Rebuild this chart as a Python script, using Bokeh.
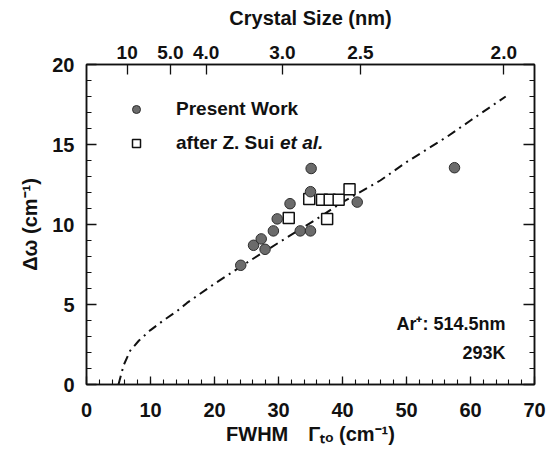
from bokeh.plotting import figure
from bokeh.models import (Range1d, LinearAxis, SingleIntervalTicker, FixedTicker,
                          Label, Legend, LegendItem)
from bokeh.embed import file_html
from bokeh.resources import INLINE

# ---- data ----
present_fwhm = [24.1, 26.1, 27.3, 27.9, 29.2, 29.8, 31.8, 33.4, 35.0, 35.0, 35.1, 42.3, 57.5]
present_shift = [7.45, 8.7, 9.1, 8.45, 9.6, 10.35, 11.3, 9.6, 9.6, 12.05, 13.5, 11.4, 13.55]

sui_fwhm = [31.6, 34.8, 36.8, 38.0, 39.4, 41.1, 37.6]
sui_shift = [10.4, 11.6, 11.55, 11.55, 11.55, 12.2, 10.35]

model_fwhm = [5.0, 5.8, 6.8, 8.2, 10.0, 12.0, 14.2, 15.7, 20.0, 25.6, 30.0, 35.6, 40.0, 45.9, 50.0, 56.4, 60.0, 65.5]
model_shift = [0.0, 1.2, 2.1, 2.75, 3.4, 4.0, 4.6, 5.1, 6.3, 7.75, 8.86, 10.25, 11.4, 12.75, 13.9, 15.5, 16.5, 18.0]

size_tick_fwhm = [6.35, 13.1, 18.7, 30.6, 42.8, 65.2]
size_tick_labels = ["10", "5.0", "4.0", "3.0", "2.5", "2.0"]

FONT = "Liberation Sans"
INK = "#111111"

W, H = 550, 452
p = figure(width=W, height=H, x_range=Range1d(0, 70), y_range=Range1d(0, 20),
           output_backend="svg", toolbar_location=None,
           x_axis_location=None, y_axis_location=None,
           min_border_left=86, min_border_right=16, min_border_top=64, min_border_bottom=68)
p.xgrid.visible = False
p.ygrid.visible = False
p.outline_line_color = INK
p.outline_line_width = 1.5
p.background_fill_color = "white"
p.border_fill_color = "white"


def style_axis(ax, size, standoff, tin, tout, mtin):
    ax.axis_line_color = INK
    ax.axis_line_width = 1.5
    ax.major_tick_line_color = INK
    ax.minor_tick_line_color = INK
    ax.major_tick_line_width = 1.3
    ax.minor_tick_line_width = 1.1
    ax.major_tick_in = tin
    ax.major_tick_out = tout
    ax.minor_tick_in = mtin
    ax.minor_tick_out = 0
    ax.major_label_text_font = FONT
    ax.major_label_text_font_style = "bold"
    ax.major_label_text_font_size = size
    ax.major_label_text_color = INK
    ax.major_label_standoff = standoff
    ax.axis_label_text_font = FONT
    ax.axis_label_text_font_style = "bold"
    ax.axis_label_text_font_size = "20px"
    ax.axis_label_text_color = INK


xb = LinearAxis(ticker=SingleIntervalTicker(interval=10, num_minor_ticks=5),
                axis_label="FWHM\u2003\u0393\u209c\u2092 (cm\u207b\u00b9)")
style_axis(xb, "20px", 18, 8, 0, 5)
xb.axis_label_standoff = 3
p.add_layout(xb, "below")

xt = LinearAxis(ticker=FixedTicker(ticks=size_tick_fwhm, minor_ticks=[]),
                major_label_overrides={t: lab for t, lab in zip(size_tick_fwhm, size_tick_labels)},
                axis_label="Crystal Size (nm)")
style_axis(xt, "19px", 6, 10, 0, 0)
xt.axis_label_standoff = 14
p.add_layout(xt, "above")

yl = LinearAxis(ticker=SingleIntervalTicker(interval=5, num_minor_ticks=5),
                axis_label="\u0394\u03c9 (cm\u207b\u00b9)")
style_axis(yl, "20px", 12, 10, 0, 5)
yl.axis_label_standoff = 8
p.add_layout(yl, "left")

yr = LinearAxis(ticker=SingleIntervalTicker(interval=5, num_minor_ticks=5))
style_axis(yr, "0px", 0, 11, 0, 5)
yr.major_label_text_alpha = 0
p.add_layout(yr, "right")

# ---- glyphs ----
p.line(model_fwhm, model_shift, line_color=INK, line_width=2, line_dash="9 5 2 5")
r_sui = p.scatter(sui_fwhm, sui_shift, marker="square", size=11,
                  fill_color="white", line_color=INK, line_width=1.5)
r_pw = p.scatter(present_fwhm, present_shift, marker="circle", size=10.5,
                 fill_color="#6b6b6b", line_color="#2e2e2e", line_width=1)

legend = Legend(items=[LegendItem(label="Present Work", renderers=[r_pw]),
                       LegendItem(label="after Z. Sui", renderers=[r_sui])],
                location=(40, 230), glyph_width=20, glyph_height=22, label_height=22,
                spacing=12, padding=0, margin=0, label_standoff=30,
                background_fill_alpha=0, border_line_alpha=0,
                label_text_font=FONT, label_text_font_style="bold",
                label_text_font_size="19px", label_text_color=INK)
p.add_layout(legend)


# ---- px -> data helpers for text placement only ----
def dx(px):
    return (px - 86) / 6.4


def dy(py):
    return (384 - py) / 16.0


def lab(text, x, y, size, style="bold", align="left"):
    p.add_layout(Label(x=x, y=y, text=text, text_font=FONT, text_font_style=style,
                       text_font_size=size, text_align=align, text_baseline="middle",
                       text_color=INK))


lab("et al.", dx(279.5), dy(142), "19px", style="bold italic")
lab("Ar\u207a: 514.5nm", dx(505), dy(323), "18px", align="right")
lab("293K", dx(505), dy(352), "18px", align="right")

open("out.html", "w").write(file_html(p, INLINE))
